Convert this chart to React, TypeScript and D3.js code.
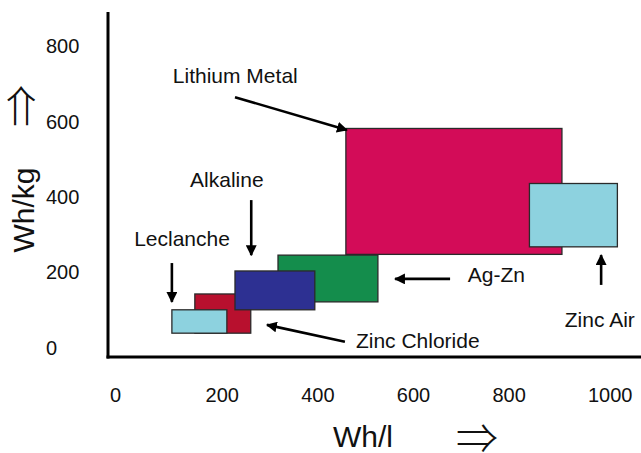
import React from "react";
import * as d3 from "d3";

// ---- data ----
const batteries = ["Lithium Metal", "Ag-Zn", "Zinc Chloride", "Alkaline", "Leclanche", "Zinc Air"];
const whPerLMin = [460, 318, 144, 228, 96, 844];
const whPerLMax = [912, 527, 261, 395, 211, 1028];
const whPerKgMin = [247, 121, 38, 100, 38, 267];
const whPerKgMax = [581, 245, 142, 203, 100, 435];
const fills = ["#d30c58", "#148d4c", "#b8102e", "#2d3092", "#8dd2df", "#8dd2df"];

const xTicks = [0, 200, 400, 600, 800, 1000];
const yTicks = [0, 200, 400, 600, 800];

// annotation label positions (data units) and arrows (from -> to, data units)
const labelText = ["Lithium Metal", "Alkaline", "Leclanche", "Ag-Zn", "Zinc Air", "Zinc Chloride"];
const labelX = [98, 134, 17, 715, 918, 481];
const labelY = [702, 426, 269, 175, 54, -1];
const arrowFromX = [228, 262, 96, 678, 994, 458];
const arrowFromY = [664, 391, 224, 182, 166, 15];
const arrowToX = [462, 262, 96, 563, 994, 295];
const arrowToY = [577, 245, 121, 182, 245, 60];

const W = 641;
const H = 453;

export default function App() {
  const x = d3.scaleLinear().domain([0, 1000]).range([126, 604]);
  const y = d3.scaleLinear().domain([0, 800]).range([347.5, 45.9]);

  const font = "'Liberation Sans', Arial, Helvetica, sans-serif";
  const arrowFont = "'Noto Sans CJK JP', 'DejaVu Sans', sans-serif";

  return (
    <svg
      width={W}
      height={H}
      viewBox={`0 0 ${W} ${H}`}
      style={{ position: "absolute", left: 0, top: 0, background: "#fff" }}
    >
      <defs>
        <marker
          id="ah"
          viewBox="0 0 10 10"
          refX="9"
          refY="5"
          markerWidth="4.2"
          markerHeight="4.2"
          orient="auto"
          markerUnits="strokeWidth"
        >
          <path d="M0,0 L10,5 L0,10 z" fill="#000" />
        </marker>
      </defs>
      <rect x={0} y={0} width={W} height={H} fill="#fff" />

      {/* rectangles */}
      {batteries.map((b, i) => (
        <rect
          key={b}
          x={x(whPerLMin[i])}
          y={y(whPerKgMax[i])}
          width={x(whPerLMax[i]) - x(whPerLMin[i])}
          height={y(whPerKgMin[i]) - y(whPerKgMax[i])}
          fill={fills[i]}
          stroke="#2a2a2a"
          strokeWidth={1.3}
        />
      ))}

      {/* axes */}
      <line x1={108} y1={12} x2={108} y2={358.5} stroke="#000" strokeWidth={3} />
      <line x1={106.5} y1={357} x2={641} y2={357} stroke="#000" strokeWidth={3} />

      {/* y tick labels */}
      {yTicks.map((t) => (
        <text
          key={"y" + t}
          x={46}
          y={y(t)}
          dy="0.36em"
          fontFamily={font}
          fontSize={20}
          fill="#111"
        >
          {t}
        </text>
      ))}

      {/* x tick labels */}
      {xTicks.map((t) => (
        <text
          key={"x" + t}
          x={x(t) - 16}
          y={402}
          fontFamily={font}
          fontSize={20}
          fill="#111"
        >
          {t}
        </text>
      ))}

      {/* axis titles */}
      <text x={333} y={447} fontFamily={font} fontSize={30} fill="#111">
        Wh/l
      </text>
      <text
        x={477}
        y={439}
        dy="0.35em"
        textAnchor="middle"
        fontFamily={arrowFont}
        fontWeight={300}
        fontSize={42}
        fill="#111"
      >
        ⇒
      </text>
      <text
        transform="translate(34,210) rotate(-90)"
        textAnchor="middle"
        fontFamily={font}
        fontSize={30}
        fill="#111"
      >
        Wh/kg
      </text>
      <text
        transform="translate(22,106) rotate(-90)"
        dy="0.35em"
        textAnchor="middle"
        fontFamily={arrowFont}
        fontWeight={300}
        fontSize={42}
        fill="#111"
      >
        ⇒
      </text>

      {/* annotations */}
      {labelText.map((t, i) => (
        <g key={t}>
          <text x={x(labelX[i])} y={y(labelY[i])} fontFamily={font} fontSize={21} fill="#111">
            {t}
          </text>
          <line
            x1={x(arrowFromX[i])}
            y1={y(arrowFromY[i])}
            x2={x(arrowToX[i])}
            y2={y(arrowToY[i])}
            stroke="#000"
            strokeWidth={2.6}
            markerEnd="url(#ah)"
          />
        </g>
      ))}
    </svg>
  );
}
